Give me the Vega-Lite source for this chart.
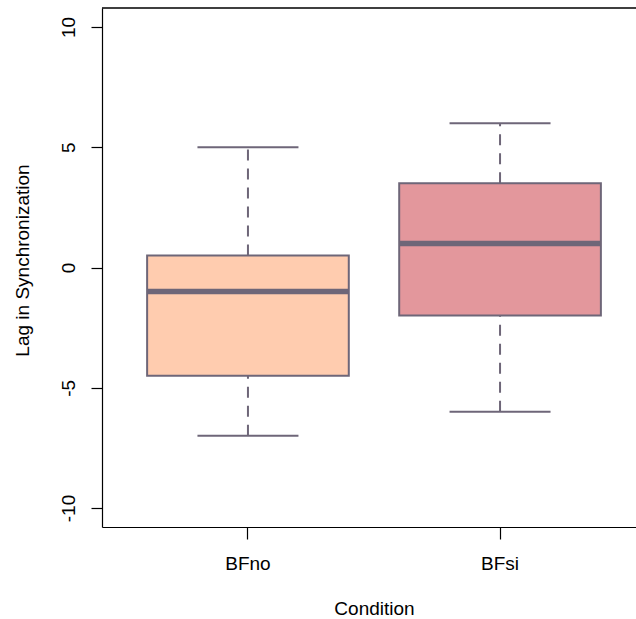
{
  "$schema": "https://vega.github.io/schema/vega-lite/v6.json",
  "autosize": "none",
  "padding": {"left": 102, "top": 8, "right": 0, "bottom": 92},
  "width": 544,
  "height": 519,
  "background": "white",
  "config": {
    "view": {"stroke": null},
    "font": "Liberation Sans",
    "axis": {"grid": false, "domain": true, "domainColor": "#000000", "domainWidth": 1.2, "tickColor": "#000000", "labelColor": "#000000", "titleColor": "#000000", "labelFontSize": 19, "titleFontSize": 19, "titleFontWeight": "normal", "labelFont": "Liberation Sans", "titleFont": "Liberation Sans", "tickWidth": 1.2}
  },
  "data": {
    "values": [
      {"cond": "BFno", "lower": -7, "q1": -4.5, "median": -1, "q3": 0.5, "upper": 5},
      {"cond": "BFsi", "lower": -6, "q1": -2, "median": 1, "q3": 3.5, "upper": 6}
    ]
  },
  "encoding": {
    "x": {
      "field": "cond", "type": "nominal", "sort": ["BFno", "BFsi"],
      "scale": {"paddingInner": 0.2, "paddingOuter": 0.179},
      "axis": {"title": "Condition", "labelAngle": 0, "tickSize": 12, "labelPadding": 30, "labelBaseline": "alphabetic", "titleY": 87, "titleX": 272, "titleBaseline": "alphabetic", "titleAnchor": "middle", "titleAlign": "center"}
    }
  },
  "layer": [
    {
      "mark": {"type": "rule", "stroke": "#000000", "strokeWidth": 1.2},
      "encoding": {"x": null, "y": {"datum": 10.79, "type": "quantitative"}}
    },
    {
      "mark": {"type": "rule", "stroke": "#6E6678", "strokeWidth": 2, "strokeDash": [11, 8]},
      "encoding": {
        "y": {"field": "lower", "type": "quantitative", "scale": {"domain": [-10.79, 10.79], "nice": false, "zero": false},
          "axis": {"title": "Lag in Synchronization", "values": [-10, -5, 0, 5, 10], "labelExpr": "datum.value < 0 ? '-' + abs(datum.value) : '' + datum.value", "labelAngle": -90, "labelAlign": "center", "labelBaseline": "alphabetic", "tickSize": 11, "labelPadding": 17, "titleAngle": -90, "titleX": -74, "titleY": 252, "titleAlign": "center", "titleBaseline": "alphabetic"}},
        "y2": {"field": "q1"}
      }
    },
    {
      "mark": {"type": "rule", "stroke": "#6E6678", "strokeWidth": 2, "strokeDash": [11, 8]},
      "encoding": {
        "y": {"field": "q3", "type": "quantitative"},
        "y2": {"field": "upper"}
      }
    },
    {
      "mark": {"type": "tick", "color": "#6E6678", "size": 101, "thickness": 2, "opacity": 1},
      "encoding": {"y": {"field": "lower", "type": "quantitative"}}
    },
    {
      "mark": {"type": "tick", "color": "#6E6678", "size": 101, "thickness": 2, "opacity": 1},
      "encoding": {"y": {"field": "upper", "type": "quantitative"}}
    },
    {
      "mark": {"type": "bar", "stroke": "#6E6678", "strokeWidth": 2, "opacity": 1},
      "encoding": {
        "y": {"field": "q1", "type": "quantitative"},
        "y2": {"field": "q3"},
        "fill": {"field": "cond", "type": "nominal", "scale": {"domain": ["BFno", "BFsi"], "range": ["#FFCCAF", "#E3979C"]}, "legend": null}
      }
    },
    {
      "mark": {"type": "tick", "color": "#6E6678", "size": 201.6, "thickness": 5.5, "opacity": 1},
      "encoding": {"y": {"field": "median", "type": "quantitative"}}
    }
  ]
}
